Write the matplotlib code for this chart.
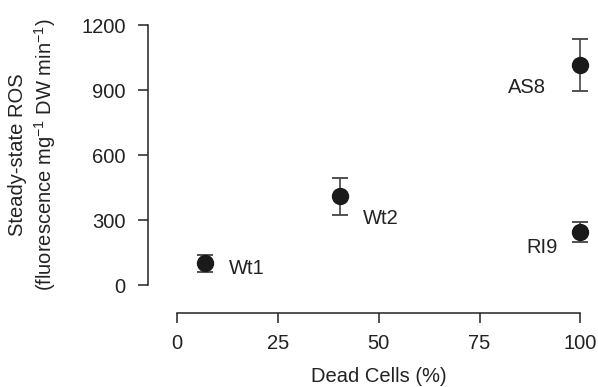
import numpy as np
import matplotlib
matplotlib.use("Agg")
import matplotlib.pyplot as plt

plt.rcParams['font.family'] = ['Liberation Sans', 'DejaVu Sans']
plt.rcParams['mathtext.fontset'] = 'custom'
plt.rcParams['mathtext.rm'] = 'Liberation Sans'
plt.rcParams['mathtext.it'] = 'Liberation Sans'

# data
strains = ['Wt1', 'Wt2', 'AS8', 'RI9']
dead_cells = [7, 40.5, 100, 100]
ros = [100, 410, 1015, 245]
ros_err = [38, 85, 121, 46]

# label offsets (points) and alignment per strain
label_dx = [17, 16.5, -25, -16]
label_dy = [-4, -16, -16, -11.5]
label_ha = ['left', 'left', 'right', 'right']

fig = plt.figure(figsize=(5.98, 3.87), dpi=100)
ax = fig.add_axes([0.2475, 0.1912, 0.74, 0.757])

ax.errorbar(dead_cells, ros, yerr=ros_err, fmt='o', color='#1a1a1a',
            ecolor='#444444', elinewidth=1.2, capsize=6, capthick=1.3,
            markersize=11.5, zorder=3)

for name, x, y, dx, dy, ha in zip(strains, dead_cells, ros, label_dx, label_dy, label_ha):
    ax.annotate(name, (x, y), xytext=(dx, dy), textcoords='offset points',
                ha=ha, va='center', fontsize=14.5, color='#222222')

ax.set_xlim(-7.2, 102.5)
ax.set_ylim(-129, 1223)
ax.spines['top'].set_visible(False)
ax.spines['right'].set_visible(False)
ax.spines['left'].set_bounds(0, 1200)
ax.spines['bottom'].set_bounds(0, 100)
for s in ['left', 'bottom']:
    ax.spines[s].set_linewidth(1.1)
    ax.spines[s].set_color('#222222')

ax.set_xticks([0, 25, 50, 75, 100])
ax.set_yticks([0, 300, 600, 900, 1200])
ax.tick_params(axis='both', labelsize=14.5, width=1.1, length=7, colors='#222222')
ax.tick_params(axis='y', pad=9)
ax.tick_params(axis='x', pad=8)

ax.set_xlabel('Dead Cells (%)', fontsize=14.5, color='#222222')
ax.set_ylabel('Steady-state ROS\n(fluorescence mg$^{-1}$ DW min$^{-1}$)',
              fontsize=14.5, color='#222222', linespacing=1.25)
# centre the labels on the bounded spines
ax.xaxis.set_label_coords(0.522, -0.185)
ax.yaxis.set_label_coords(-0.204, 0.539)

fig.savefig('out.png', dpi=100)
